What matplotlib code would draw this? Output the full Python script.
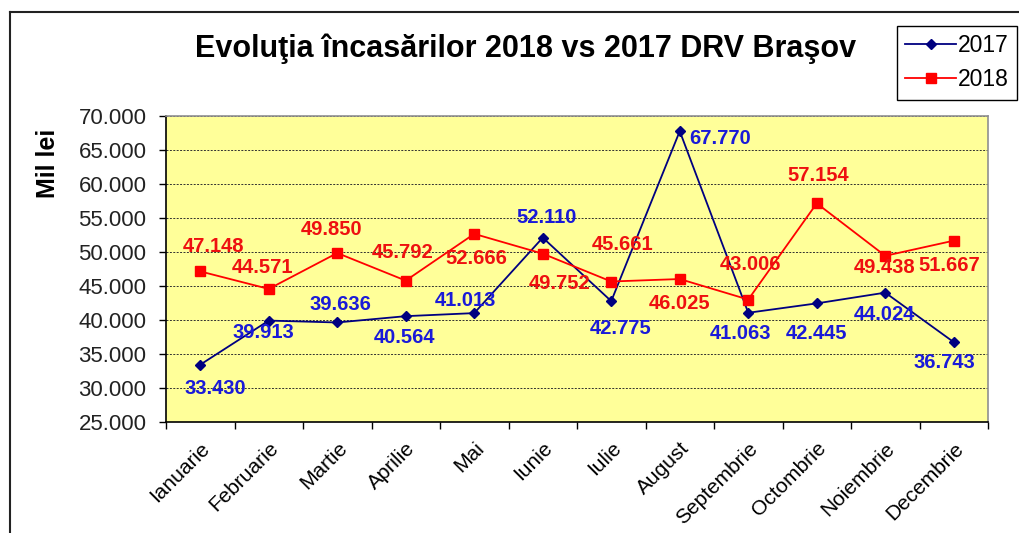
import matplotlib.pyplot as plt
from matplotlib.lines import Line2D
from matplotlib.ticker import FuncFormatter, FixedLocator

plt.rcParams['font.family'] = ['Liberation Sans', 'DejaVu Sans']

luni = ['Ianuarie', 'Februarie', 'Martie', 'Aprilie', 'Mai', 'Iunie', 'Iulie',
        'August', 'Septembrie', 'Octombrie', 'Noiembrie', 'Decembrie']
v2017 = [33430, 39913, 39636, 40564, 41013, 52110, 42775, 67770, 41063, 42445, 44024, 36743]
v2018 = [47148, 44571, 49850, 45792, 52666, 49752, 45661, 46025, 43006, 57154, 49438, 51667]

# label offsets (pixels) as placed in the original chart
off2017 = [(15, -24), (-5, -12), (3, 18), (-1, -21), (-9, 13), (4, 20),
           (9, -27), (40, -7), (-8, -21), (0, -30), (-1, -22), (-9, -20)]
off2018 = [(13, 25), (-6, 21), (-6, 24), (-3, 28), (2, -25), (17, -30),
           (11, 37), (0, -24), (2, 35), (1, 28), (-1, -12), (-4, -25)]

def fmt(v, pos=None):
    return f"{v:,.0f}".replace(',', '.')

fig = plt.figure(figsize=(10.19, 5.33), dpi=100)
ax = fig.add_axes([166 / 1019, 111 / 533, 822 / 1019, 306 / 533])
ax.set_facecolor('#FFFF99')

x = list(range(len(luni)))
ax.plot(x, v2017, color='#000080', lw=1.3, marker='D', ms=5, label='2017', zorder=3)
ax.plot(x, v2018, color='#FF0000', lw=1.3, marker='s', ms=7.5, label='2018', zorder=3)

for i, v in enumerate(v2017):
    ax.annotate(fmt(v), (i, v), xytext=off2017[i], textcoords='offset pixels',
                ha='center', va='center', fontsize=14.5, fontweight='bold',
                color='#1A1AD8', zorder=4)
for i, v in enumerate(v2018):
    ax.annotate(fmt(v), (i, v), xytext=off2018[i], textcoords='offset pixels',
                ha='center', va='center', fontsize=14.5, fontweight='bold',
                color='#EE1010', zorder=4)

ax.set_xlim(-0.5, 11.5)
ax.set_ylim(25000, 70000)
ax.set_yticks(range(25000, 70001, 5000))
ax.yaxis.set_major_formatter(FuncFormatter(fmt))
ax.grid(axis='y', color='#303030', ls=(0, (2, 1.5)), lw=0.7)
ax.set_axisbelow(True)

ax.set_xticks(x)
ax.set_xticklabels(luni, rotation=45, ha='right', va='top', rotation_mode='anchor',
                   fontsize=15)
ax.xaxis.set_minor_locator(FixedLocator([i - 0.5 for i in range(13)]))
ax.tick_params(axis='x', which='major', length=0, pad=12)
ax.tick_params(axis='x', which='minor', length=5, width=1, direction='out')
ax.tick_params(axis='y', length=5, width=1, labelsize=16, pad=9, labelcolor='#222222')

for s in ['left', 'bottom']:
    ax.spines[s].set_color('black')
    ax.spines[s].set_linewidth(1.2)
for s in ['top', 'right']:
    ax.spines[s].set_color('#909090')
    ax.spines[s].set_linewidth(1.2)

fig.text(48 / 1019, 1 - 163 / 533, 'Mil lei', rotation=90, ha='center', va='center',
         fontsize=18, fontweight='bold')
fig.text(526 / 1019, 1 - 49 / 533, 'Evoluţia încasărilor 2018 vs 2017 DRV Braşov',
         ha='center', va='center', fontsize=22, fontweight='bold')

leg = fig.legend(loc='upper right', bbox_to_anchor=(1017 / 1019, 1 - 26 / 533),
                 fontsize=16.5, frameon=True, fancybox=False, edgecolor='black',
                 framealpha=1, handlelength=2.2, handletextpad=0.1,
                 borderpad=0.35, labelspacing=0.5, borderaxespad=0)
leg.get_frame().set_linewidth(1.0)

fig.add_artist(Line2D([9.5 / 1019, 9.5 / 1019], [0, 1 - 12 / 533], color='#222222', lw=1.5))
fig.add_artist(Line2D([9.5 / 1019, 1], [1 - 12 / 533, 1 - 12 / 533], color='#222222', lw=1.5))

fig.savefig('out.png', dpi=100)
